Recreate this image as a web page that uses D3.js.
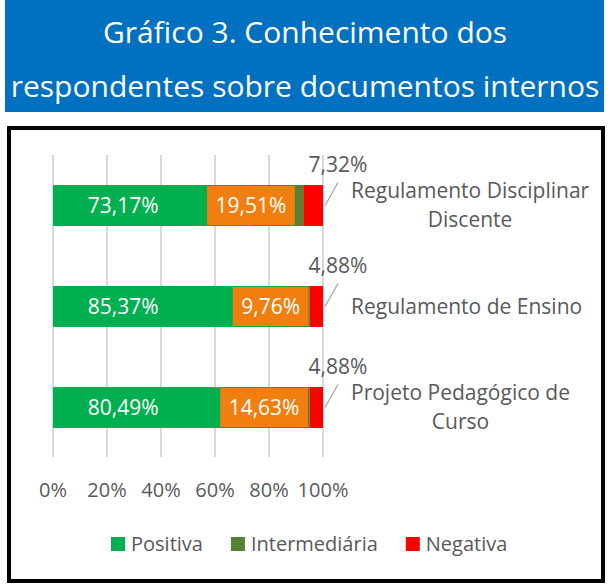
<!DOCTYPE html>
<html>
<head>
<meta charset="utf-8">
<script src="https://cdn.jsdelivr.net/npm/d3@7"></script>
<style>
  body { margin: 0; background: #fff; }
  svg { display: block; font-family: "Open Sans", "Noto Sans", sans-serif; }
</style>
</head>
<body>
<svg id="chart" width="609" height="585"></svg>
<script>
// data
var categories = [
  ["Regulamento Disciplinar", "Discente"],
  ["Regulamento de Ensino"],
  ["Projeto Pedagógico de", "Curso"]
];
var positiva = [73.17, 85.37, 80.49];
var intermediaria = [19.51, 9.76, 14.63];
var negativa = [7.32, 4.88, 4.88];
var seriesNames = ["Positiva", "Intermediária", "Negativa"];
var seriesColors = ["#00b050", "#548235", "#ff0000"];
var ticks = [0, 20, 40, 60, 80, 100];
var titleLines = ["Gráfico 3. Conhecimento dos", "respondentes sobre documentos internos"];

var fmt = function(v) { return v.toFixed(2).replace(".", ",") + "%"; };

var svg = d3.select("#chart");
var grey = "#595959";

// title band
svg.append("rect")
  .attr("x", 5).attr("y", 0).attr("width", 599).attr("height", 112)
  .attr("fill", "#0070c0");
svg.selectAll(".title")
  .data(titleLines)
  .enter().append("text")
  .attr("class", "title")
  .attr("x", 305)
  .attr("y", function(d, i) { return 43 + i * 54; })
  .attr("text-anchor", "middle")
  .attr("fill", "#fff")
  .attr("font-size", 30)
  .text(function(d) { return d; });

// frame
svg.append("rect")
  .attr("x", 9).attr("y", 128).attr("width", 594).attr("height", 453)
  .attr("fill", "#fff").attr("stroke", "#000").attr("stroke-width", 4);

var x = d3.scaleLinear().domain([0, 100]).range([53, 323]);
var y = d3.scaleBand().domain(d3.range(categories.length)).range([155, 458]).paddingInner(0.594).paddingOuter(0.297);

var g = svg.append("g");

// gridlines
g.selectAll(".grid")
  .data(ticks)
  .enter().append("line")
  .attr("x1", function(d) { return x(d); })
  .attr("x2", function(d) { return x(d); })
  .attr("y1", 155).attr("y2", 457)
  .attr("stroke", "#d9d9d9").attr("stroke-width", 2);

// tick labels
g.selectAll(".tick")
  .data(ticks)
  .enter().append("text")
  .attr("x", function(d) { return x(d); })
  .attr("y", 497)
  .attr("text-anchor", "middle")
  .attr("fill", grey)
  .attr("font-size", 20)
  .text(function(d) { return d + "%"; });

var rows = categories.map(function(c, i) {
  return { i: i, vals: [positiva[i], intermediaria[i], negativa[i]] };
});

var stack = d3.stack().keys([0, 1, 2]).value(function(d, k) { return d.vals[k]; });
var layers = stack(rows);

g.selectAll(".layer")
  .data(layers)
  .enter().append("g")
  .attr("fill", function(d) { return seriesColors[d.key]; })
  .selectAll("rect")
  .data(function(d) { return d; })
  .enter().append("rect")
  .attr("x", function(d) { return x(d[0]); })
  .attr("y", function(d) { return y(d.data.i); })
  .attr("width", function(d) { return x(Math.min(d[1], 100)) - x(d[0]); })
  .attr("height", y.bandwidth());

var bw = y.bandwidth();
function cy(i) { return y(i) + bw / 2; }

// positive labels
g.selectAll(".pos")
  .data(rows)
  .enter().append("text")
  .attr("x", x(26))
  .attr("y", function(d) { return cy(d.i); })
  .attr("dy", "0.35em")
  .attr("text-anchor", "middle")
  .attr("fill", "#fff")
  .attr("font-size", 21)
  .text(function(d) { return fmt(d.vals[0]); });

// intermediate labels in orange boxes
rows.forEach(function(d) {
  var cx = x(d.vals[0] + d.vals[1] / 2) - 26;
  var lab = g.append("g");
  var t = lab.append("text")
    .attr("x", cx).attr("y", cy(d.i)).attr("dy", "0.35em")
    .attr("text-anchor", "middle")
    .attr("fill", "#fff").attr("font-size", 21)
    .text(fmt(d.vals[1]));
  var w = t.node().getComputedTextLength() + 17;
  lab.insert("rect", "text")
    .attr("x", cx - w / 2).attr("y", y(d.i) + 1)
    .attr("width", w).attr("height", bw - 2)
    .attr("fill", "#f07f10");
});

// negative labels with leader lines
g.selectAll(".leader")
  .data(rows)
  .enter().append("line")
  .attr("x1", x(100) + 2).attr("y1", function(d) { return cy(d.i); })
  .attr("x2", x(100) + 15).attr("y2", function(d) { return cy(d.i) - 23; })
  .attr("stroke", "#a6a6a6").attr("stroke-width", 1.3);

g.selectAll(".neg")
  .data(rows)
  .enter().append("text")
  .attr("x", x(100) + 15)
  .attr("y", function(d) { return cy(d.i) - 41; })
  .attr("dy", "0.35em")
  .attr("text-anchor", "middle")
  .attr("fill", grey)
  .attr("font-size", 21)
  .text(function(d) { return fmt(d.vals[2]); });

// category labels to the right of bars
categories.forEach(function(lines, i) {
  var lh = 29;
  var t = g.append("text")
    .attr("fill", grey).attr("font-size", 21).attr("text-anchor", "middle");
  var spans = t.selectAll("tspan")
    .data(lines)
    .enter().append("tspan")
    .attr("y", function(d, k) { return cy(i) + (k - (lines.length - 1) / 2) * lh; })
    .attr("dy", "0.35em")
    .text(function(d) { return d; });
  var maxW = d3.max(spans.nodes(), function(n) { return n.getComputedTextLength(); });
  spans.attr("x", 351 + maxW / 2);
});

// legend
var legend = svg.append("g");
var lx = 111;
seriesNames.forEach(function(name, k) {
  legend.append("rect")
    .attr("x", lx).attr("y", 537).attr("width", 14).attr("height", 14)
    .attr("fill", seriesColors[k]);
  var t = legend.append("text")
    .attr("x", lx + 20).attr("y", 544).attr("dy", "0.35em")
    .attr("fill", grey).attr("font-size", 20)
    .text(name);
  lx += 20 + t.node().getComputedTextLength() + 28;
});
</script>
</body>
</html>
